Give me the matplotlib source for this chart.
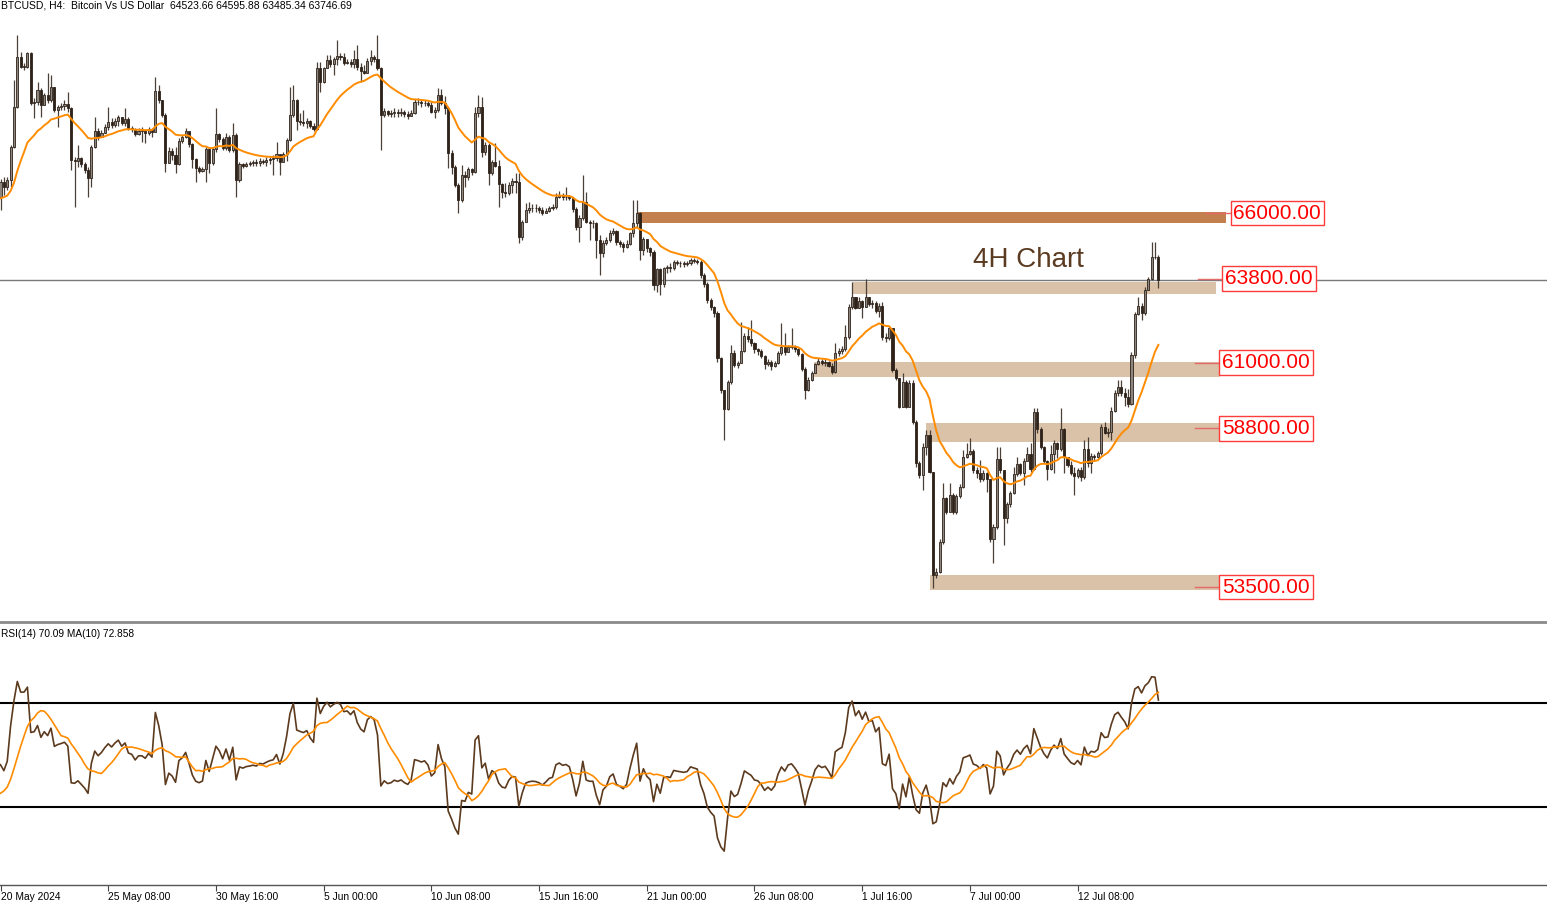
import numpy as np
import pandas as pd
import matplotlib
matplotlib.use('Agg')
import matplotlib.pyplot as plt
from matplotlib.lines import Line2D

# ---- data (BTCUSD H4) ----
# closes of the bars just before the first visible one (feed the MA / RSI)
warmup_close = [65900, 65600, 65400, 65800, 66200, 66600, 66900, 66700, 66800, 66600,
                66700, 66900, 66700, 66500, 66400, 66600, 66300, 66500, 66700, 66550]

close = [67050, 66880, 67100, 68220, 69550, 71230, 70890, 70890, 71340, 69670,
         69720, 70110, 69610, 69940, 69780, 70200, 69440, 69530, 69580, 69640,
         69500, 67770, 67740, 67830, 67640, 67440, 67160, 68220, 68750, 68550,
         68690, 68890, 69050, 68940, 69090, 69200, 69020, 69130, 68840, 68800,
         68640, 68750, 68750, 68690, 68800, 68720, 70090, 69780, 69280, 67680,
         68080, 67940, 67640, 68420, 68530, 68740, 68310, 67790, 67490, 67420,
         67470, 68130, 67680, 68130, 68630, 68460, 68160, 68530, 68110, 68610,
         67100, 67640, 67580, 67640, 67660, 67690, 67660, 67740, 67720, 67770,
         67810, 67830, 67960, 67720, 67970, 68440, 69280, 69780, 69090, 69050,
         69020, 69090, 68910, 68800, 70840, 70390, 70840, 71110, 70980, 71140,
         71250, 71200, 71030, 71060, 70980, 71140, 70890, 70750, 70690, 71090,
         71200, 71140, 70840, 69280, 69420, 69310, 69330, 69390, 69350, 69380,
         69300, 69250, 69330, 69720, 69700, 69670, 69690, 69610, 69390, 69440,
         69940, 69670, 69500, 68000, 67550, 66940, 66440, 67270, 67220, 67460,
         67380, 69330, 69550, 68050, 68270, 67330, 67720, 67570, 66970, 66710,
         66660, 66940, 67080, 67050, 65210, 65710, 66100, 66160, 66180, 66160,
         66100, 65990, 66080, 66180, 66210, 66550, 66600, 66530, 66550, 66490,
         66120, 65540, 65820, 66380, 65710, 65660, 65660, 65100, 64650, 65010,
         65100, 65340, 65410, 65040, 64970, 64880, 64970, 65320, 65660, 65990,
         64750, 65120, 64820, 64680, 63590, 64120, 63630, 64150, 64180, 64150,
         64370, 64340, 64320, 64300, 64320, 64430, 64400, 64370, 63930, 63630,
         63090, 62850, 62670, 61140, 60090, 59440, 60360, 61310, 60920, 61000,
         61400, 61900, 61780, 61670, 61440, 61400, 61220, 60940, 61030, 60890,
         61000, 61310, 61510, 61370, 61530, 61560, 61440, 61290, 60780, 60090,
         60420, 60660, 60950, 61070, 61000, 61030, 60890, 60700, 61330, 61400,
         61450, 61870, 62850, 63180, 62840, 63070, 62870, 63180, 62960, 63000,
         62740, 62890, 61870, 61810, 62150, 60750, 60480, 59530, 60360, 59530,
         60330, 59030, 57640, 57250, 58190, 58580, 57360, 53900, 54010, 55020,
         56460, 56020, 56580, 56020, 56540, 56850, 57860, 57950, 58060, 57410,
         57320, 57100, 57320, 57100, 55090, 55500, 57770, 57410, 55800, 56280,
         56630, 57280, 57610, 57320, 57720, 57950, 57430, 59360, 58770, 58170,
         57720, 57430, 57950, 58300, 58100, 58770, 57860, 57580, 57320, 57210,
         57410, 57170, 58100, 57660, 57880, 57840, 57970, 58860, 58660, 58690,
         59390, 60000, 60170, 60000, 59850, 59620, 61260, 62630, 62890, 62670,
         63430, 63780, 64540, 64523.66, 63746.69]

high = [67150, 67210, 67210, 68270, 70440, 71950, 71390, 71000, 71390, 71390,
        69830, 70390, 70170, 70000, 70670, 70610, 70200, 69610, 69670, 69780,
        70050, 69550, 67880, 68270, 67880, 67720, 67550, 68270, 69220, 68830,
        68780, 68970, 69550, 69160, 69160, 69270, 69220, 69520, 69220, 68910,
        68830, 68830, 68890, 68780, 68890, 68830, 70560, 70280, 69780, 69330,
        68220, 68160, 68220, 68500, 68610, 68850, 68720, 68350, 67830, 67570,
        67550, 68220, 68160, 68220, 69500, 68660, 68550, 68660, 68610, 69000,
        68660, 67720, 67660, 67720, 67750, 67770, 67790, 67830, 67790, 67880,
        67880, 67940, 68380, 67940, 68050, 68500, 70220, 70280, 69800, 69330,
        69440, 69160, 69110, 69000, 71060, 71060, 70890, 71280, 71280, 71230,
        71780, 71340, 71340, 71140, 71140, 71450, 71610, 71000, 70950, 71170,
        71450, 71280, 71950, 70890, 69500, 69440, 69440, 69500, 69470, 69500,
        69450, 69400, 69450, 69800, 69850, 69800, 69780, 69750, 69700, 69550,
        70170, 70140, 69900, 69550, 68100, 67600, 67000, 67610, 67390, 67550,
        67500, 69550, 69940, 69890, 68380, 68330, 67770, 68330, 67770, 67000,
        67000, 67050, 67160, 67330, 67330, 65770, 66320, 66380, 66300, 66300,
        66250, 66200, 66160, 66250, 66300, 66660, 66720, 66660, 66880, 66610,
        66550, 66210, 65940, 67270, 66710, 65770, 65770, 65710, 65260, 65100,
        65210, 65430, 65490, 65430, 65100, 65040, 65100, 65380, 66430, 66450,
        66050, 65200, 65120, 64870, 64760, 64150, 64150, 64210, 64270, 64330,
        64430, 64430, 64400, 64380, 64400, 64490, 64490, 64450, 64430, 63990,
        63710, 63150, 62900, 62710, 61200, 60090, 60420, 61590, 61420, 61070,
        62370, 61980, 62200, 62420, 61700, 61500, 61450, 61250, 61110, 61090,
        61060, 61400, 62310, 61980, 61590, 62150, 61600, 61480, 61330, 60840,
        60520, 60720, 61000, 61150, 61130, 61110, 61050, 61000, 61640, 61500,
        61560, 62260, 62960, 63710, 63200, 63180, 63100, 63790, 63180, 63100,
        63050, 62990, 63040, 61980, 62230, 62150, 60810, 60480, 60640, 60420,
        60420, 60420, 59080, 57700, 58300, 58750, 58750, 57360, 54130, 55100,
        56970, 56520, 56970, 56630, 56600, 56950, 58080, 58300, 58470, 58100,
        57500, 57750, 57420, 57350, 57100, 55600, 58190, 58190, 57410, 56350,
        56700, 57520, 57860, 57650, 57800, 58190, 58300, 59470, 59470, 58850,
        58200, 57750, 58250, 58400, 58330, 59470, 58800, 57850, 57700, 57500,
        57480, 57500, 58410, 58520, 57980, 57960, 58040, 58950, 59030, 58800,
        59500, 60080, 60420, 60420, 60150, 60130, 61360, 62700, 63200, 62990,
        63520, 63870, 65040, 65040, 64595.88]

low = [66100, 66600, 66770, 66880, 68160, 69500, 70830, 70780, 70830, 69610,
       69160, 69610, 69220, 69610, 69670, 69720, 69390, 68890, 69440, 69440,
       69390, 67440, 66210, 67540, 67550, 67330, 66550, 66880, 68160, 68440,
       68530, 68660, 68780, 68830, 68860, 68910, 68940, 68910, 68770, 68720,
       68570, 68610, 68380, 68330, 68610, 68550, 68830, 69660, 69220, 67380,
       67660, 67770, 67330, 67600, 68350, 68500, 68220, 67490, 67050, 67330,
       67380, 67050, 67330, 67600, 68050, 68380, 68110, 68110, 68050, 68050,
       66550, 67050, 67490, 67550, 67570, 67580, 67580, 67580, 67630, 67580,
       67640, 67270, 67750, 67270, 67750, 67750, 68420, 69220, 68770, 68940,
       68910, 68830, 68830, 68750, 68770, 70050, 70330, 70830, 70890, 70610,
       70950, 71110, 70950, 70980, 70890, 70830, 70780, 70390, 70650, 70670,
       70950, 71060, 70780, 68110, 69220, 69240, 69200, 69220, 69220, 69240,
       69200, 69150, 69250, 69300, 69600, 69550, 69580, 69550, 69330, 69170,
       69390, 69610, 69300, 67490, 67300, 66880, 65990, 66380, 66880, 67110,
       67270, 67330, 69220, 67880, 67940, 66940, 67270, 67550, 66210, 66490,
       66550, 66600, 66680, 66680, 64990, 65100, 65880, 65990, 66050, 66050,
       65990, 65940, 65990, 66050, 66100, 66150, 66500, 66440, 66440, 66440,
       66050, 65430, 65040, 65770, 65650, 65100, 65490, 64490, 63930, 64540,
       64930, 65040, 65260, 64930, 64870, 64710, 64820, 64930, 65210, 65540,
       64420, 64600, 64710, 64560, 63430, 63370, 63260, 63540, 63990, 64040,
       64100, 64260, 64210, 64210, 64240, 64260, 64320, 64290, 63820, 63540,
       62980, 62750, 62530, 61030, 60000, 58410, 59420, 60280, 60860, 60810,
       60990, 61360, 61700, 61560, 61330, 61260, 61170, 60800, 60900, 60760,
       60850, 60950, 61250, 61270, 61370, 61450, 61370, 61220, 60710, 59800,
       60050, 60370, 60640, 60920, 60920, 60880, 60860, 60620, 60650, 61220,
       61300, 61400, 61790, 62780, 62780, 62810, 62480, 62850, 62900, 62810,
       62650, 62530, 61760, 61700, 61750, 60690, 60420, 59470, 59530, 59470,
       59500, 58950, 57520, 57140, 56740, 57910, 57300, 53480, 53790, 53960,
       54950, 55930, 56240, 55930, 55930, 56480, 56800, 57800, 57900, 57300,
       57150, 57000, 57050, 56690, 55020, 54290, 55450, 57310, 54900, 55630,
       56190, 56600, 57200, 57250, 56910, 57700, 57350, 57400, 58650, 58100,
       57650, 57080, 57400, 57300, 57800, 58050, 57300, 57500, 57250, 56580,
       57150, 57050, 57100, 57500, 57300, 57750, 57820, 57900, 58600, 58520,
       58410, 59350, 59900, 59900, 59550, 59500, 59580, 61140, 62590, 62420,
       62590, 63430, 63760, 64450, 63485.34]

tick_pos = [0, 32, 64, 96, 128, 160, 192, 224, 256, 288, 320]
tick_labels = ['20 May 2024', '25 May 08:00', '30 May 16:00', '5 Jun 00:00', '10 Jun 08:00',
               '15 Jun 16:00', '21 Jun 00:00', '26 Jun 08:00', '1 Jul 16:00', '7 Jul 00:00',
               '12 Jul 08:00']

# support / resistance zones
level_values = [66000, 63800, 61000, 58800, 53500]
zone_low = [65650, 63290, 60520, 58350, 53400]
zone_high = [66040, 63690, 61020, 58980, 53900]
zone_start = [189.2, 253.2, 241.8, 275.1, 276.0]

header = 'BTCUSD, H4:  Bitcoin Vs US Dollar  64523.66 64595.88 63485.34 63746.69'
rsi_label = 'RSI(14) 70.09 MA(10) 72.858'

# ---- indicators ----
n = len(close)
all_close = pd.Series(warmup_close + close, dtype=float)
ma = all_close.ewm(span=20, adjust=False).mean().values[len(warmup_close):]

delta = all_close.diff()
gain = delta.clip(lower=0).ewm(alpha=1 / 14, adjust=False).mean()
loss = (-delta.clip(upper=0)).ewm(alpha=1 / 14, adjust=False).mean()
rsi = 100 - 100 / (1 + gain / loss)
rsi_ma = rsi.rolling(10).mean()
rsi = rsi.values[len(warmup_close):]
rsi_ma = rsi_ma.values[len(warmup_close):]

close = np.array(close, dtype=float)
high = np.array(high, dtype=float)
low = np.array(low, dtype=float)
opens = np.concatenate([[warmup_close[-1]], close[:-1]])
opens[-1] = 64523.66
x = np.arange(n)

# ---- figure ----
W, H = 1547, 902
fig = plt.figure(figsize=(W / 100, H / 100), dpi=100)
fig.patch.set_facecolor('white')

px = 3.366  # pixels per bar
xlim = (-0.15, W / px - 0.15)

ax = fig.add_axes([0, 1 - 621 / H, 1, 621 / H])
ax.set_xlim(*xlim)
ax.set_ylim(52364, 73119)
ax.axis('off')

# zones
for lo, hi, x0, lv in zip(zone_low, zone_high, zone_start, level_values):
    x1 = 364.2 if lv == 66000 else (361.0 if lv == 63800 else 362.2)
    col = '#C47F4E' if lv == 66000 else '#D9C2A7'
    ax.add_patch(plt.Rectangle((x0, lo), x1 - x0, hi - lo, fc=col, ec='none', zorder=1))

# bid line
ax.axhline(63746.69, color='#7a7a7a', lw=1, zorder=2)

# candles
bull = close >= opens
body_lo = np.minimum(opens, close)
body_h = np.maximum(np.abs(close - opens), 15)
ax.vlines(x, low, high, color='#4a4038', lw=0.9, zorder=3)
ax.bar(x[bull], body_h[bull], bottom=body_lo[bull], width=0.62, color='#8d867e',
       edgecolor='#2e2219', linewidth=0.6, zorder=4)
ax.bar(x[~bull], body_h[~bull], bottom=body_lo[~bull], width=0.62, color='#2e2219',
       edgecolor='#2e2219', linewidth=0.6, zorder=4)

# moving average
ax.plot(x, ma, color='#FF8C00', lw=1.4, zorder=5)

# level labels
label_left = [365.4, 363.0, 362.1, 362.1, 362.1]
for lv, xl in zip(level_values, label_left):
    ax.plot([xl - 7.2, xl], [lv, lv], color='#E46A6A', lw=1, zorder=5)
    ax.text(xl + 0.9, lv, f'{lv:.2f}', color='#FF0000', fontsize=15, family='Liberation Sans',
            ha='left', va='center', zorder=6,
            bbox=dict(boxstyle='square,pad=0.14', fc='white', ec='#FF3B3B', lw=1))

ax.text(305.3, 64430, '4H Chart', color='#5B3C22', fontsize=20, family='Liberation Sans',
        ha='center', va='center', zorder=6)

fig.text(1 / W, 1 - 5 / H, header, fontsize=7.5, family='Liberation Sans', ha='left', va='center')

# ---- RSI window ----
ax2 = fig.add_axes([0, 1 - 885 / H, 1, (885 - 625) / H])
ax2.set_xlim(*xlim)
ax2.set_ylim(0, 100)
for s in ['top', 'left', 'right']:
    ax2.spines[s].set_visible(False)
ax2.spines['bottom'].set_color('#555555')
ax2.spines['bottom'].set_linewidth(1)
ax2.set_yticks([])
ax2.axhline(70, color='black', lw=1.5)
ax2.axhline(30, color='black', lw=1.5)
ax2.plot(x, rsi, color='#5C3A1E', lw=1.2)
ax2.plot(x, rsi_ma, color='#FF8C00', lw=1.2)
ax2.set_xticks(tick_pos)
ax2.set_xticklabels(tick_labels, fontsize=7.4, family='Liberation Sans', ha='left')
ax2.tick_params(axis='x', direction='out', length=4, width=0.8, color='#444444', pad=1)
fig.text(1 / W, 1 - 634 / H, rsi_label, fontsize=7.3, family='Liberation Sans', ha='left', va='center')

# window separator
fig.add_artist(Line2D([0, 1], [1 - 622 / H, 1 - 622 / H], transform=fig.transFigure,
                      color='#8a8a8a', lw=2))

fig.savefig('out.png', dpi=100)
